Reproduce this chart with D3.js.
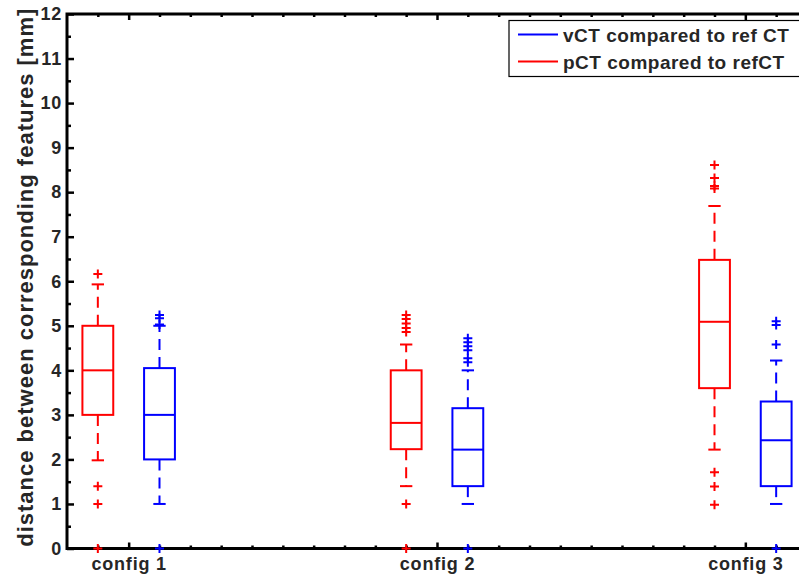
<!DOCTYPE html>
<html>
<head>
<meta charset="utf-8">
<script src="https://cdn.jsdelivr.net/npm/d3@7"></script>
<style>
  body { margin: 0; background: #fff; overflow: hidden; }
  svg { display: block; }
  text { font-family: "Liberation Sans", Arial, Helvetica, sans-serif; font-weight: bold; fill: #262626; }
</style>
</head>
<body>
<div class="canvas"></div>
<script>
// categories and series
const configs = ["config 1", "config 2", "config 3"];
const seriesNames = ["vCT compared to ref CT", "pCT compared to refCT"];

// box stats per config: [lower whisker, q1, median, q3, upper whisker]
const pctStats = [
  [1.98, 3.0, 4.0, 5.0, 5.93],
  [1.4, 2.23, 2.82, 4.0, 4.58],
  [2.22, 3.6, 5.09, 6.48, 7.69],
];
const pctOutliers = [
  [6.16, 1.4, 1.0, 0],
  [5.24, 5.15, 5.05, 4.95, 4.86, 1.0, 0],
  [8.61, 8.32, 8.14, 8.08, 1.71, 1.39, 0.98],
];
const vctStats = [
  [1.0, 2.0, 3.0, 4.05, 5.0],
  [1.0, 1.4, 2.22, 3.15, 4.0],
  [1.0, 1.4, 2.43, 3.3, 4.22],
];
const vctOutliers = [
  [5.24, 5.17, 5.03, 0],
  [4.72, 4.63, 4.54, 4.45, 4.27, 4.18, 0],
  [5.1, 5.02, 4.58, 0],
];

const yTicks = d3.range(0, 13);
const yMinor = d3.range(0.5, 12, 1);
const xMinor = d3.range(9, 32).filter((k) => k % 10 !== 0).map((k) => k / 10);

var width = 799;
var height = 583;
var plotL = 67, plotR = 807, plotT = 14, plotB = 548.5;
var boxHalf = 0.05;
var capHalf = 0.02;
var lineW = 2;

var x = d3.scaleLinear().domain([0.8, 3.2]).range([plotL, plotR]);
var y = d3.scaleLinear().domain([0, 12]).range([plotB, plotT]);

var svg = d3
  .select(".canvas")
  .append("svg")
  .attr("width", width)
  .attr("height", height);

/* axes */
function styleAxis(sel) {
  sel.select(".domain").remove();
  sel.selectAll(".tick line").attr("stroke", "#000").attr("stroke-width", 2.5);
  sel.selectAll("text").style("font-size", "18px").style("letter-spacing", "0.8px").attr("fill", "#262626");
}

svg.append("g")
  .attr("transform", `translate(${plotL},0)`)
  .call(d3.axisLeft(y).tickValues(yTicks).tickSize(-7).tickPadding(5))
  .call(styleAxis);
svg.append("g")
  .attr("transform", `translate(${plotL},0)`)
  .call(d3.axisLeft(y).tickValues(yMinor).tickSize(-4).tickFormat(""))
  .call(styleAxis);

svg.append("g")
  .attr("transform", `translate(0,${plotB})`)
  .call(d3.axisBottom(x).tickValues([1, 2, 3]).tickSize(-6).tickPadding(9).tickFormat((d) => configs[d - 1]))
  .call(styleAxis);
svg.append("g")
  .attr("transform", `translate(0,${plotB})`)
  .call(d3.axisBottom(x).tickValues(xMinor).tickSize(-3).tickFormat(""))
  .call(styleAxis);
svg.append("g")
  .attr("transform", `translate(0,${plotT})`)
  .call(d3.axisTop(x).tickValues([1, 2, 3]).tickSize(-6).tickFormat(""))
  .call(styleAxis);
svg.append("g")
  .attr("transform", `translate(0,${plotT})`)
  .call(d3.axisTop(x).tickValues(xMinor).tickSize(-3).tickFormat(""))
  .call(styleAxis);

// frame (right side falls outside the window, as in the original)
svg.append("rect")
  .attr("x", plotL).attr("y", plotT)
  .attr("width", plotR - plotL).attr("height", plotB - plotT)
  .attr("fill", "none").attr("stroke", "#000").attr("stroke-width", 3);

/* boxes */
var groups = [
  { name: seriesNames[1], color: "#ff0000", offset: -0.1, stats: pctStats, outliers: pctOutliers },
  { name: seriesNames[0], color: "#0000ff", offset: 0.1, stats: vctStats, outliers: vctOutliers },
];

var plot = svg.append("g");
groups.forEach(function (g) {
  g.stats.forEach(function (s, i) {
    var c = i + 1 + g.offset;
    var gg = plot.append("g").attr("stroke", g.color).attr("stroke-width", lineW).attr("fill", "none");
    // whiskers
    gg.append("line")
      .attr("x1", x(c)).attr("x2", x(c))
      .attr("y1", y(s[3])).attr("y2", y(s[4]))
      .attr("stroke-dasharray", "11,7");
    gg.append("line")
      .attr("x1", x(c)).attr("x2", x(c))
      .attr("y1", y(s[1])).attr("y2", y(s[0]))
      .attr("stroke-dasharray", "11,7");
    // caps
    [s[0], s[4]].forEach(function (v) {
      gg.append("line")
        .attr("x1", x(c - capHalf)).attr("x2", x(c + capHalf))
        .attr("y1", y(v)).attr("y2", y(v));
    });
    // box
    gg.append("rect")
      .attr("x", x(c - boxHalf))
      .attr("y", y(s[3]))
      .attr("width", x(c + boxHalf) - x(c - boxHalf))
      .attr("height", y(s[1]) - y(s[3]));
    // median
    gg.append("line")
      .attr("x1", x(c - boxHalf)).attr("x2", x(c + boxHalf))
      .attr("y1", y(s[2])).attr("y2", y(s[2]));
    // outliers
    gg.selectAll("path.out")
      .data(g.outliers[i])
      .enter()
      .append("path")
      .attr("class", "out")
      .attr("d", (v) => `M${x(c) - 4.5},${y(v)}h9M${x(c)},${y(v) - 4.5}v9`);
  });
});

/* y label */
svg.append("text")
  .attr("transform", `translate(33,${(plotT + plotB) / 2 - 4}) rotate(-90)`)
  .attr("text-anchor", "middle")
  .style("font-size", "22px")
  .style("letter-spacing", "1px")
  .text("distance between corresponding features [mm]");

/* legend */
var legend = svg.append("g").attr("transform", "translate(509,20.5)");
legend.append("rect")
  .attr("width", 300).attr("height", 56)
  .attr("fill", "#fff").attr("stroke", "#000").attr("stroke-width", 1.2);
[groups[1], groups[0]].forEach(function (g, i) {
  legend.append("line")
    .attr("x1", 9).attr("x2", 49)
    .attr("y1", 14 + i * 27).attr("y2", 14 + i * 27)
    .attr("stroke", g.color).attr("stroke-width", lineW);
  legend.append("text")
    .attr("x", 54)
    .attr("y", 21 + i * 27)
    .style("font-size", "19px")
    .style("letter-spacing", "0.5px")
    .text(g.name);
});
</script>
</body>
</html>
